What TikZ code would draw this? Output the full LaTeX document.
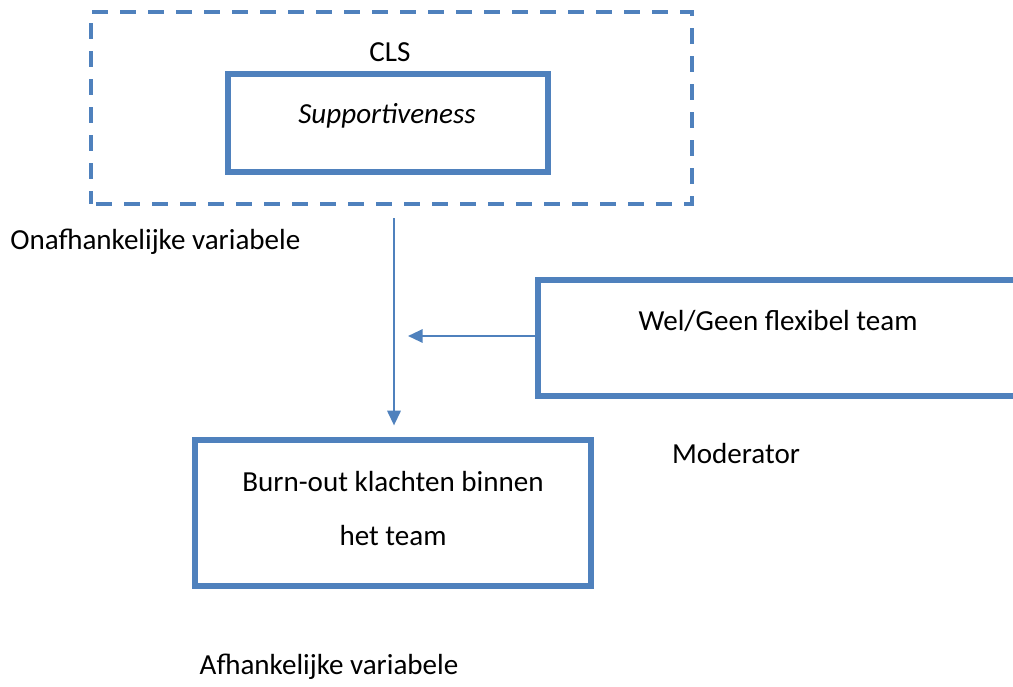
\documentclass[tikz,border=0pt]{standalone}
\usepackage{fontspec}
\setmainfont{Carlito}
\usetikzlibrary{arrows.meta}
\definecolor{boxblue}{HTML}{4F81BD}
\tikzset{
  x=0.75pt, y=-0.75pt,
  thickbox/.style={draw=boxblue, line width=3.9pt, inner sep=0pt},
  dashbox/.style={draw=boxblue, line width=2.5pt, dash pattern=on 12pt off 9pt, dash phase=-4pt, inner sep=0pt},
  lbl/.style={font=\fontsize{21.8}{26}\selectfont, inner sep=0pt, text=black},
  arr/.style={draw=boxblue, line width=1.6pt, -{Triangle[length=11pt,width=10pt]}}
}
\begin{document}
\begin{tikzpicture}
\useasboundingbox (0,0) rectangle (1013,686);
\clip (0,0) rectangle (1013,686);
% CLS group
\node[dashbox, minimum width=601*0.75pt, minimum height=192*0.75pt] (cls) at (391.5,108) {};
\node[lbl] (clstext) at (390,52) {CLS};
\node[thickbox, minimum width=320*0.75pt, minimum height=98*0.75pt] (sup) at (388,123) {};
\node[lbl, font=\fontsize{21.8}{26}\selectfont\itshape] (suptext) at (387,116) {Supportiveness};
\node[lbl, anchor=west] (onaf) at (10,242) {Onafhankelijke variabele};
% moderator
\node[thickbox, minimum width=500*0.75pt, minimum height=116*0.75pt] (mod) at (788,338) {};
\node[lbl] (modtext) at (778,321) {Wel/Geen flexibel team};
\node[lbl] (moderator) at (736,454) {Moderator};
% dependent
\node[thickbox, minimum width=396*0.75pt, minimum height=146*0.75pt] (burn) at (393,513) {};
\node[lbl] (burn1) at (393,482) {Burn-out klachten binnen};
\node[lbl] (burn2) at (393,536) {het team};
\node[lbl] (afh) at (329,667) {Afhankelijke variabele};
% connectors
\coordinate (vtop) at (394,218);
\coordinate (mtip) at (408,336);
\draw[arr, shorten >=12*0.75pt] (vtop) -- (vtop |- burn.north);
\draw[arr] (mod.west |- mtip) -- (mtip);
\end{tikzpicture}
\end{document}
